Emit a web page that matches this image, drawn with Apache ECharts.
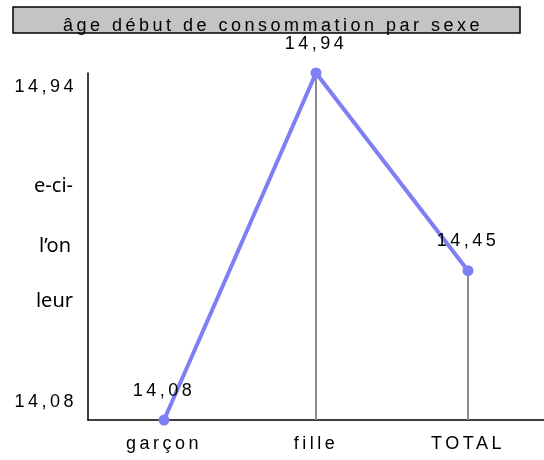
<!DOCTYPE html>
<html>
<head>
<meta charset="utf-8">
<script src="https://cdn.jsdelivr.net/npm/echarts@6/dist/echarts.min.js"></script>
<style>
  html, body { margin: 0; padding: 0; background: #fff; }
  #main { width: 544px; height: 460px; }
</style>
</head>
<body>
<div id="main"></div>
<script>
// age moyen de debut par sexe
var categories = ['garçon', 'fille', 'TOTAL'];
var ages = [14.08, 14.94, 14.45];
var yTicks = [14.08, 14.94];
var sideWords = ['e-ci-', 'l\u2019on', 'leur'];

// the original excel text is spaced out, canvas can do that via letterSpacing
(function () {
    var proto = CanvasRenderingContext2D.prototype;
    ['fillText', 'measureText'].forEach(function (name) {
        var orig = proto[name];
        proto[name] = function () {
            if ('letterSpacing' in this) {
                var f = this.font;
                this.letterSpacing = /Liberation/.test(f) ? '3.5px' : '0px';
                this.font = f;
            }
            return orig.apply(this, arguments);
        };
    });
})();

function fr(v) {
    return v.toFixed(2).replace('.', ',');
}

var chart = echarts.init(document.getElementById('main'));

var option = {
    backgroundColor: '#fff',
    animation: false,
    title: {
        text: 'âge début de consommation par sexe',
        left: 268,
        top: 10,
        textAlign: 'center',
        textStyle: {
            fontFamily: 'Liberation Sans',
            fontSize: 18,
            fontWeight: 'normal',
            color: '#000'
        }
    },
    graphic: [
        {
            type: 'rect',
            z: -1,
            shape: { x: 13, y: 7, width: 507, height: 26 },
            style: { fill: '#c4c4c4', stroke: '#000', lineWidth: 1.5 }
        },
        {
            type: 'text', right: 544 - 73, top: 176,
            style: { text: sideWords[0], font: '20px "Noto Sans"', fill: '#000', textAlign: 'right' }
        },
        {
            type: 'text', right: 544 - 71, top: 236,
            style: { text: sideWords[1], font: '20px "Noto Sans"', fill: '#000', textAlign: 'right' }
        },
        {
            type: 'text', right: 544 - 73, top: 291,
            style: { text: sideWords[2], font: '20px "Noto Sans"', fill: '#000', textAlign: 'right' }
        }
    ],
    grid: {
        left: 88,
        right: 0,
        top: 73,
        bottom: 40
    },
    xAxis: {
        type: 'category',
        data: categories,
        axisLine: { lineStyle: { color: '#000', width: 1.5 } },
        axisTick: { show: false },
        axisLabel: {
            color: '#000',
            fontFamily: 'Liberation Sans',
            fontSize: 18,
            margin: 13
        }
    },
    yAxis: {
        type: 'value',
        min: yTicks[0],
        max: yTicks[1],
        interval: yTicks[1] - yTicks[0],
        splitLine: { show: false },
        axisTick: { show: false },
        axisLine: { show: true, lineStyle: { color: '#000', width: 1.5 } },
        axisLabel: {
            color: '#000',
            margin: 11,
            formatter: function (v) {
                if (Math.abs(v - yTicks[1]) < 0.001) return '{top|' + fr(yTicks[1]) + '}';
                return '{bot|' + fr(yTicks[0]) + '}';
            },
            rich: {
                top: { fontSize: 18, fontFamily: 'Liberation Sans', color: '#000', padding: [28, 0, 0, 0] },
                bot: { fontSize: 18, fontFamily: 'Liberation Sans', color: '#000', padding: [0, 0, 36, 0] }
            }
        }
    },
    series: [
        {
            type: 'bar',
            data: ages,
            barWidth: 2,
            itemStyle: { color: '#8c8c8c' },
            silent: true
        },
        {
            type: 'line',
            data: ages,
            symbol: 'circle',
            symbolSize: 11,
            lineStyle: { color: '#7f7ff5', width: 4 },
            itemStyle: { color: '#7f7ff5' },
            label: {
                show: true,
                position: 'top',
                distance: 13,
                color: '#000',
                fontFamily: 'Liberation Sans',
                fontSize: 18,
                formatter: function (p) { return fr(p.value); }
            }
        }
    ]
};

chart.setOption(option);
</script>
</body>
</html>
